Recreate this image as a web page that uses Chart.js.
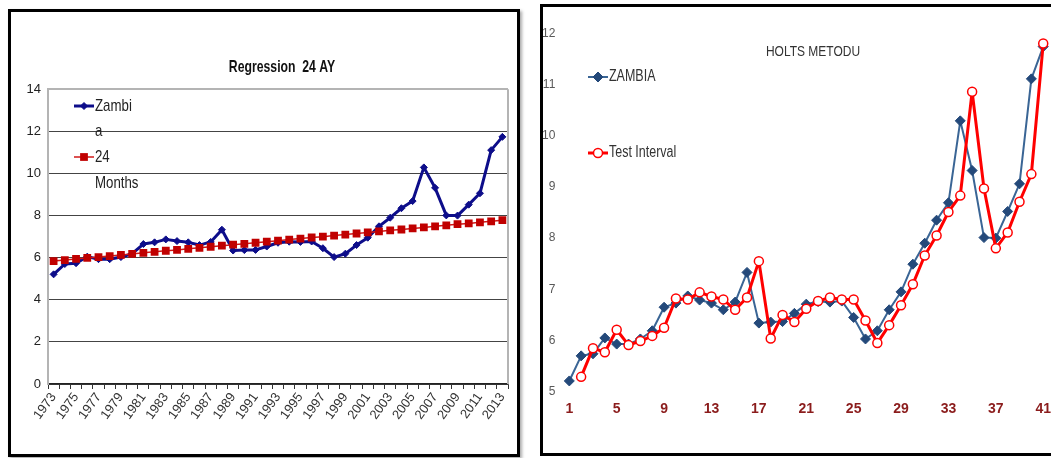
<!DOCTYPE html>
<html>
<head>
<meta charset="utf-8">
<script src="https://cdn.jsdelivr.net/npm/chart.js@4.4.1/dist/chart.umd.min.js"></script>
<style>
html, body { margin: 0; padding: 0; background: #fff; width: 1051px; height: 458px; overflow: hidden; }
.kutu { position: absolute; border: 3px solid #000; background: #fff; overflow: hidden; }
#solKutu { left: 8px; top: 9px; width: 506px; height: 442px; box-shadow: 2px 2px 3px #aaa; }
#sagKutu { left: 540px; top: 4px; width: 530px; height: 446px; }
canvas { display: block; }
</style>
</head>
<body>
<div class="kutu" id="solKutu"><canvas id="regresyon" width="506" height="442"></canvas></div>
<div class="kutu" id="sagKutu"><canvas id="holts" width="517" height="446"></canvas></div>
<script>
// yillar ve donemler
const yillar = ['1973','1974','1975','1976','1977','1978','1979','1980','1981','1982',
  '1983','1984','1985','1986','1987','1988','1989','1990','1991','1992',
  '1993','1994','1995','1996','1997','1998','1999','2000','2001','2002',
  '2003','2004','2005','2006','2007','2008','2009','2010','2011','2012','2013'];
const donemler = yillar.map((y, i) => String(i + 1));

// Zambia serisi (iki grafikte ayni)
const zambia = [5.21, 5.70, 5.74, 6.05, 5.93, 5.93, 6.03, 6.19, 6.65, 6.73,
  6.87, 6.79, 6.73, 6.60, 6.75, 7.33, 6.34, 6.36, 6.37, 6.53,
  6.71, 6.76, 6.75, 6.77, 6.45, 6.03, 6.19, 6.60, 6.95, 7.49,
  7.90, 8.35, 8.69, 10.29, 9.32, 8.01, 8.00, 8.52, 9.06, 11.11, 11.74];

// 24 aylik regresyon dogrusu
const regresyon24 = [5.84, 5.89, 5.94, 5.99, 6.03, 6.08, 6.13, 6.18, 6.23, 6.28,
  6.33, 6.37, 6.42, 6.47, 6.52, 6.57, 6.62, 6.66, 6.71, 6.76,
  6.81, 6.86, 6.91, 6.96, 7.00, 7.05, 7.10, 7.15, 7.20, 7.25,
  7.30, 7.34, 7.39, 7.44, 7.49, 7.54, 7.59, 7.63, 7.68, 7.73, 7.78];

// Holt tahmini (test araligi), ilk donem bos
const testAraligi = [null, 5.29, 5.85, 5.77, 6.21, 5.91, 5.99, 6.09, 6.25, 6.82,
  6.80, 6.94, 6.86, 6.80, 6.60, 6.84, 7.55, 6.04, 6.50, 6.36,
  6.62, 6.77, 6.84, 6.80, 6.80, 6.39, 5.95, 6.30, 6.69, 7.10,
  7.66, 8.05, 8.51, 8.83, 10.86, 8.97, 7.80, 8.11, 8.71, 9.25, 11.80];

const DAR = "'Liberation Sans Narrow', 'Arial Narrow', 'Liberation Sans', Arial, sans-serif";
Chart.defaults.font.family = DAR;
Chart.defaults.animation = false;

// lejant icin cizgi + isaret
function isaret(ctx, x, y, ds) {
  ctx.save();
  ctx.strokeStyle = ds.borderColor;
  ctx.lineWidth = ds.borderWidth;
  ctx.beginPath();
  ctx.moveTo(x - 10, y);
  ctx.lineTo(x + 10, y);
  ctx.stroke();
  const r = ds.pointRadius;
  ctx.fillStyle = ds.pointBackgroundColor || ds.backgroundColor;
  ctx.strokeStyle = ds.pointBorderColor || ds.borderColor;
  ctx.lineWidth = ds.pointBorderWidth || 1;
  ctx.beginPath();
  if (ds.pointStyle === 'rectRot') {
    ctx.moveTo(x, y - r); ctx.lineTo(x + r, y); ctx.lineTo(x, y + r); ctx.lineTo(x - r, y); ctx.closePath();
  } else if (ds.pointStyle === 'rect') {
    const s = r * Math.SQRT1_2;
    ctx.rect(x - s, y - s, 2 * s, 2 * s);
  } else {
    ctx.arc(x, y, r, 0, Math.PI * 2);
  }
  ctx.fill();
  if (ds.pointBorderWidth !== 0) ctx.stroke();
  ctx.restore();
}

// dar yazi: yatayda sikistirilmis metin
function darYaz(ctx, metin, x, y, sx) {
  ctx.save();
  ctx.translate(x, y);
  ctx.scale(sx, 1);
  ctx.fillText(metin, 0, 0);
  ctx.restore();
}

function yaziEklentisi(id, baslik, kalemler) {
  return {
    id: id,
    afterDraw(chart) {
      const ctx = chart.ctx;
      ctx.save();
      ctx.textBaseline = 'middle';
      ctx.textAlign = 'center';
      ctx.fillStyle = baslik.renk;
      ctx.font = baslik.font;
      darYaz(ctx, baslik.metin, baslik.x, baslik.y, baslik.sx);
      kalemler.forEach(k => {
        const ds = chart.data.datasets[k.seri];
        isaret(ctx, k.x, k.y, ds);
        ctx.textAlign = 'left';
        ctx.fillStyle = k.renk;
        ctx.font = k.font;
        k.satirlar.forEach((s, i) => darYaz(ctx, s, k.x + 11, k.y + i * k.aralik, 0.78));
      });
      ctx.restore();
    }
  };
}

// cizim alaninin sag kenari
const sagKenar = {
  id: 'sagKenar',
  beforeDatasetsDraw(chart) {
    const a = chart.chartArea, ctx = chart.ctx;
    ctx.save();
    ctx.strokeStyle = '#b4b4b4';
    ctx.lineWidth = 2;
    ctx.beginPath();
    ctx.moveTo(a.right, a.top);
    ctx.lineTo(a.right, a.bottom);
    ctx.stroke();
    ctx.restore();
  }
};

new Chart(document.getElementById('regresyon'), {
  type: 'line',
  data: {
    labels: yillar,
    datasets: [
      {
        label: 'Zambia', data: zambia, order: 1,
        borderColor: '#0d0d8a', backgroundColor: '#0d0d8a', borderWidth: 3,
        borderJoinStyle: 'round',
        pointStyle: 'rectRot', pointRadius: 3.5, pointBorderWidth: 1
      },
      {
        label: '24 Months', data: regresyon24, order: 0,
        borderColor: '#d01818', backgroundColor: '#c00000', borderWidth: 1.5,
        pointStyle: 'rect', pointRadius: 5.5, pointBorderWidth: 0
      }
    ]
  },
  options: {
    responsive: false,
    layout: { padding: { top: 77.3, right: 9, left: 0, bottom: 0 } },
    plugins: { legend: { display: false }, tooltip: { enabled: false } },
    scales: {
      x: {
        offset: true,
        grid: { display: true, drawOnChartArea: false, offset: true, tickLength: 5, color: '#333' },
        border: { color: '#222', width: 1.5 },
        ticks: {
          autoSkip: false, minRotation: 54, maxRotation: 54, padding: 1,
          color: '#333', font: { size: 13 },
          callback: (v, i) => (i % 2 === 0 ? yillar[i] : '')
        },
        afterFit: s => { s.height = 70; }
      },
      y: {
        min: 0, max: 14,
        ticks: { stepSize: 2, padding: 7, color: '#222', font: { size: 13 } },
        grid: {
          drawTicks: false,
          color: c => (c.tick && c.tick.value === 14 ? '#b4b4b4' : '#444'),
          lineWidth: c => (c.tick && c.tick.value === 14 ? 2 : 1)
        },
        border: { color: '#b4b4b4', width: 2 },
        afterFit: s => { s.width = 37; }
      }
    }
  },
  plugins: [sagKenar, yaziEklentisi('solYazi',
    { metin: 'Regression  24 AY', x: 271, y: 55, sx: 0.72, font: 'bold 17px ' + DAR, renk: '#111' },
    [
      { seri: 0, x: 73, y: 94, satirlar: ['Zambi', 'a'], aralik: 25.5, font: '17px ' + DAR, renk: '#222' },
      { seri: 1, x: 73, y: 145, satirlar: ['24', 'Months'], aralik: 26, font: '17px ' + DAR, renk: '#222' }
    ])]
});

new Chart(document.getElementById('holts'), {
  type: 'line',
  data: {
    labels: donemler,
    datasets: [
      {
        label: 'ZAMBIA', data: zambia, order: 1, clip: false,
        borderColor: '#3a6595', backgroundColor: '#24497a', borderWidth: 2,
        borderJoinStyle: 'round',
        pointStyle: 'rectRot', pointRadius: 5, pointBackgroundColor: '#24497a',
        pointBorderColor: '#24497a', pointBorderWidth: 1
      },
      {
        label: 'Test Interval', data: testAraligi, order: 0, clip: false,
        borderColor: '#ff0000', backgroundColor: '#ffffff', borderWidth: 3,
        borderJoinStyle: 'round',
        pointStyle: 'circle', pointRadius: 4.5, pointBackgroundColor: '#ffffff',
        pointBorderColor: '#ff0000', pointBorderWidth: 1.5
      }
    ]
  },
  options: {
    responsive: false,
    layout: { padding: { top: 26.3, right: 13.3, left: 0, bottom: 0 } },
    plugins: { legend: { display: false }, tooltip: { enabled: false } },
    scales: {
      x: {
        grid: { display: false, drawTicks: false },
        border: { display: false },
        ticks: {
          autoSkip: false, maxRotation: 0, padding: 9,
          color: '#8b1c1c', font: { size: 14, weight: 'bold' },
          callback: (v, i) => (i % 4 === 0 ? donemler[i] : '')
        },
        afterFit: s => { s.height = 61.3; }
      },
      y: {
        min: 5, max: 12,
        ticks: { stepSize: 1, padding: 14, color: '#595959', font: { size: 12 } },
        grid: { display: false, drawTicks: false },
        border: { display: false },
        afterFit: s => { s.width = 26.3; }
      }
    }
  },
  plugins: [yaziEklentisi('sagYazi',
    { metin: 'HOLTS METODU', x: 270, y: 45, sx: 0.8, font: '15px ' + DAR, renk: '#333' },
    [
      { seri: 0, x: 55, y: 70, satirlar: ['ZAMBIA'], aralik: 0, font: '16px ' + DAR, renk: '#333' },
      { seri: 1, x: 55, y: 146, satirlar: ['Test Interval'], aralik: 0, font: '16px ' + DAR, renk: '#333' }
    ])]
});
</script>
</body>
</html>
